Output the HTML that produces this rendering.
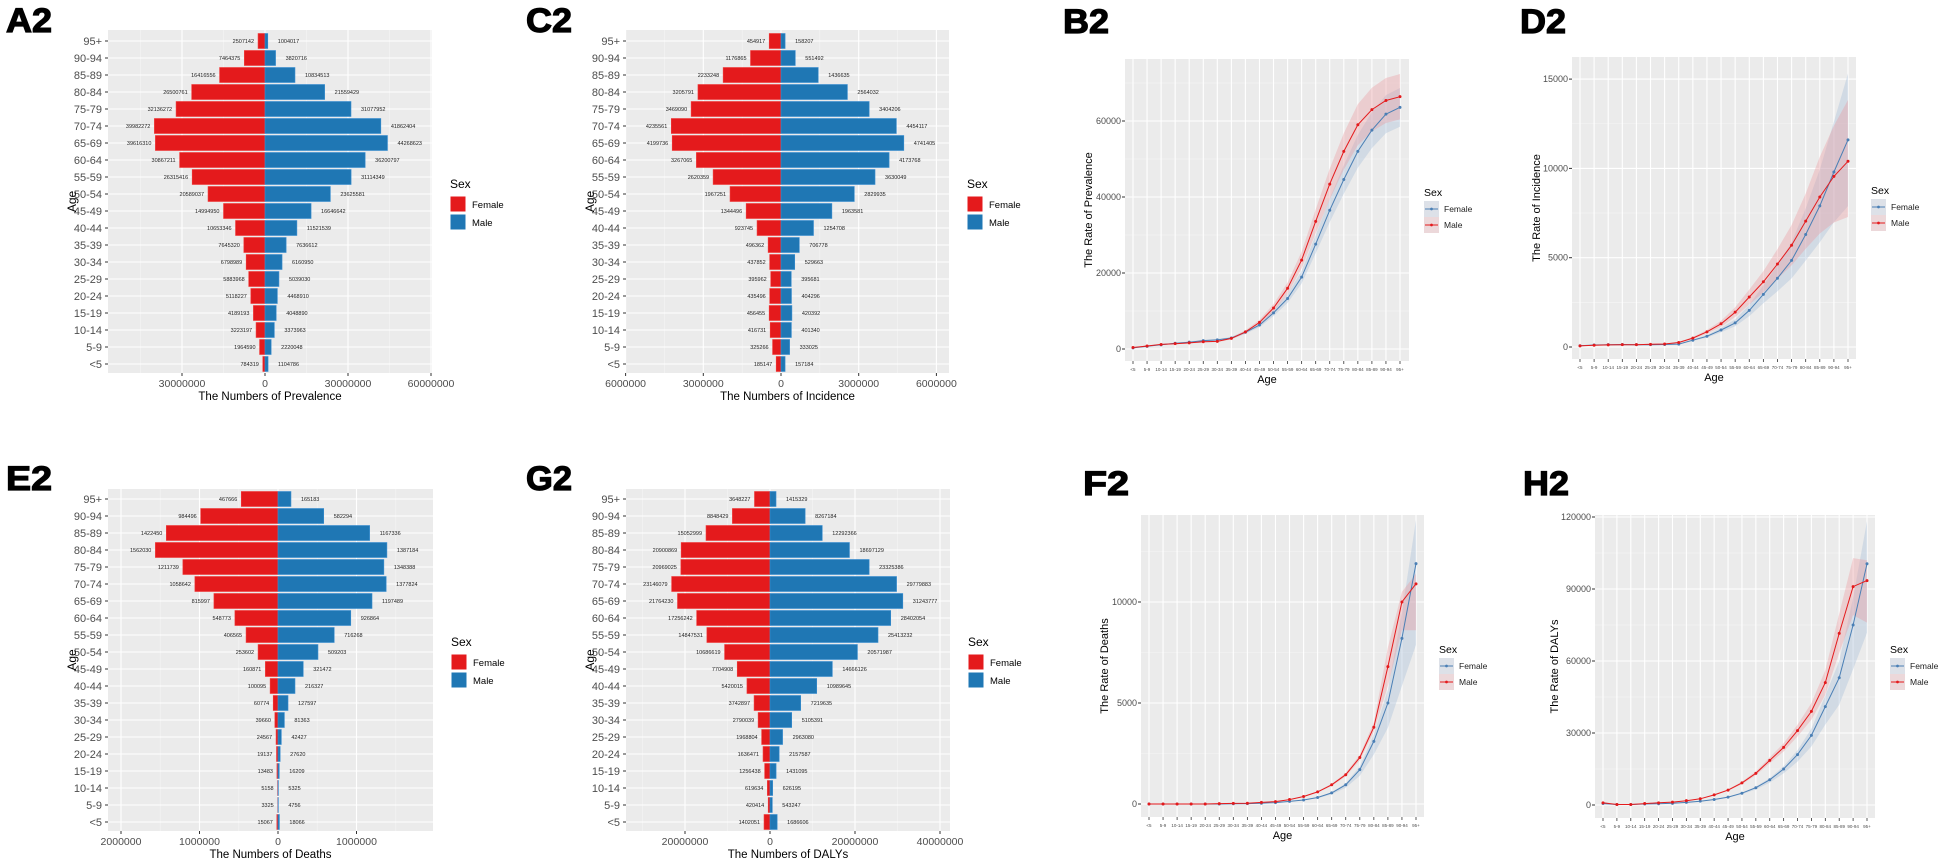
<!DOCTYPE html>
<html><head><meta charset="utf-8">
<style>
html,body{margin:0;padding:0;background:#fff;}
svg{display:block;font-family:"Liberation Sans",Arial,sans-serif;}
.t{font-family:"Liberation Sans",sans-serif;font-weight:bold;font-size:34px;fill:#000;stroke:#000;stroke-width:1.2;}
</style></head>
<body>
<svg id="s" width="1943" height="865" xmlns="http://www.w3.org/2000/svg"></svg>
<script>
var S=document.getElementById('s');var out=[];
function r(x,y,w,h,f,ex){out.push('<rect x="'+x+'" y="'+y+'" width="'+w+'" height="'+h+'" fill="'+f+'" '+(ex||'')+'/>');}
function l(x1,y1,x2,y2,c,w){out.push('<line x1="'+x1+'" y1="'+y1+'" x2="'+x2+'" y2="'+y2+'" stroke="'+c+'" stroke-width="'+w+'"/>');}
function t(x,y,s,sz,anc,fill,ex){out.push('<text x="'+x+'" y="'+y+'" font-size="'+sz+'" text-anchor="'+(anc||'start')+'" fill="'+(fill||'#000')+'" '+(ex||'')+'>'+s+'</text>');}
var ages=['95+','90-94','85-89','80-84','75-79','70-74','65-69','60-64','55-59','50-54','45-49','40-44','35-39','30-34','25-29','20-24','15-19','10-14','5-9','&lt;5'];
var RED='#e41a1c',BLUE='#1f77b4';
function title(x,y,s){out.push('<text class="t" x="'+x+'" y="'+y+'" textLength="'+(s.length*23)+'" lengthAdjust="spacingAndGlyphs">'+s+'</text>');}
function pyr(o){
 r(o.L,o.T,o.R-o.L,o.B-o.T,'#ebebeb');
 var sc=o.sc;
 var step=o.ticks[1]-o.ticks[0];
 for(var v=o.ticks[0]-step*3;v<=o.ticks[o.ticks.length-1]+step*3;v+=step){
  var xm=o.cx+(v+step/2)*sc; if(xm>o.L&&xm<o.R) l(xm,o.T,xm,o.B,'#f5f5f5',0.6);
 }
 o.ticks.forEach(function(v){var x=o.cx+v*sc; if(x>=o.L-1&&x<=o.R+1) l(x,o.T,x,o.B,'#fff',1.1);});
 for(var i=0;i<20;i++){var y=o.r0+i*17; l(o.L,y,o.R,y,'#fff',1.1);}
 for(var i=0;i<20;i++){
  var y=o.r0+i*17, f=o.d[i][0], m=o.d[i][1];
  var wf=f*sc, wm=m*sc;
  r(o.cx-wf,y-7.5,wf,15,RED,'stroke="#f03a3a" stroke-width="0.6"');
  r(o.cx,y-7.5,wm,15,BLUE,'stroke="#3a8ed0" stroke-width="0.6"');
  t(o.cx-wf-4,y+2,f,5.5,'end','#222');
  t(o.cx+wm+10,y+2,m,5.5,'start','#222');
  t(o.L-6,y+4,ages[i],11,'end','#4d4d4d');
  l(o.L-3,y,o.L,y,'#333',1);
 }
 o.ticks.forEach(function(v,k){var x=o.cx+v*sc; if(x>=o.L-2&&x<=o.R+2){l(x,o.B,x,o.B+3,'#333',1);t(x,o.B+14,o.tl[k],10.5,'middle','#4d4d4d');}});
 t((o.L+o.R)/2,o.B+27,o.xl,11.5,'middle','#000');
 out.push('<text x="0" y="0" font-size="12" text-anchor="middle" transform="translate('+(o.L-32)+','+((o.T+o.B)/2)+') rotate(-90)">Age</text>');
 var lx=o.R+18, ly=o.ly;
 t(lx,ly,'Sex',12,'start','#000');
 r(lx,ly+8,16,16,RED,'stroke="#fff" stroke-width="1"');
 r(lx,ly+26,16,16,BLUE,'stroke="#fff" stroke-width="1"');
 t(lx+22,ly+20,'Female',9.5);t(lx+22,ly+38,'Male',9.5);
}
var A=[[2507142,1004017],[7464375,3820716],[16416556,10834513],[26500761,21559429],[32136272,31077952],[39982272,41862404],[39616310,44268623],[30867211,36200797],[26315416,31114349],[20589037,23625581],[14994950,16646642],[10653346,11521539],[7645320,7636612],[6798989,6160950],[5883968,5039030],[5118227,4468910],[4189193,4048890],[3223197,3373963],[1964590,2220048],[784319,1104786]];
var C=[[454917,158207],[1176865,551492],[2233248,1436635],[3205791,2564032],[3469090,3404206],[4235561,4454117],[4199736,4741405],[3267065,4173768],[2620359,3630049],[1967251,2829935],[1344496,1963581],[923745,1254708],[496362,706778],[437852,529663],[395962,395681],[435496,404296],[456455,420392],[416731,401340],[325266,333025],[185147,157184]];
var E=[[467666,165183],[984496,582294],[1422450,1167336],[1562030,1387184],[1211739,1348388],[1058642,1377824],[815997,1197489],[548773,926864],[406565,716268],[253602,509203],[160871,321472],[100095,216327],[60774,127597],[39660,81363],[24567,42427],[19137,27620],[13483,16209],[5158,5325],[3325,4756],[15067,18066]];
var G=[[3648227,1415329],[8848429,8267184],[15052999,12292366],[20900869,18697129],[20969025,23325386],[23146079,29779883],[21764230,31243777],[17256242,28402054],[14847531,25413232],[10686619,20571987],[7704908,14666126],[5420015,10989645],[3742897,7219635],[2790039,5105391],[1968804,2963080],[1636471,2157587],[1256438,1431095],[619634,626195],[420414,543247],[1402051,1686606]];
title(6,32,'A2');title(526,32,'C2');title(1063,33,'B2');title(1520,33,'D2');
title(6,490,'E2');title(526,490,'G2');title(1083,495,'F2');title(1523,495,'H2');
pyr({L:108,R:432,T:30,B:373,cx:265,sc:83/30e6,r0:41,ticks:[-30e6,0,30e6,60e6],tl:['30000000','0','30000000','60000000'],xl:'The Numbers of Prevalence',d:A,ly:188});
pyr({L:626,R:949,T:30,B:373,cx:781,sc:77.7/3e6,r0:41,ticks:[-6e6,-3e6,0,3e6,6e6],tl:['6000000','3000000','0','3000000','6000000'],xl:'The Numbers of Incidence',d:C,ly:188});
pyr({L:108,R:433,T:489,B:831,cx:278,sc:78.5/1e6,r0:499,ticks:[-2e6,-1e6,0,1e6],tl:['2000000','1000000','0','1000000'],xl:'The Numbers of Deaths',d:E,ly:646});
pyr({L:626,R:950,T:489,B:831,cx:770,sc:85/20e6,r0:499,ticks:[-20e6,0,20e6,40e6],tl:['20000000','0','20000000','40000000'],xl:'The Numbers of DALYs',d:G,ly:646});

var xa=['&lt;5','5-9','10-14','15-19','20-24','25-29','30-34','35-39','40-44','45-49','50-54','55-59','60-64','65-69','70-74','75-79','80-84','85-89','90-94','95+'];
function path(pts){return pts.map(function(p,i){return (i?'L':'M')+p[0].toFixed(1)+','+p[1].toFixed(1);}).join('');}
function lc(o){
 r(o.L,o.T,o.R-o.L,o.B-o.T,'#ebebeb');
 var st=o.yt[1]-o.yt[0];
 for(var v=-st/2;v<o.yt[o.yt.length-1]+st*2;v+=st){var y=o.y0-v*o.sc;if(y>o.T&&y<o.B)l(o.L,y,o.R,y,'#f5f5f5',0.6);}
 o.yt.forEach(function(v){var y=o.y0-v*o.sc;l(o.L,y,o.R,y,'#fff',1.1);l(o.L-3,y,o.L,y,'#333',1);t(o.L-4,y+3,v,9,'end','#4d4d4d');});
 var dx=(o.x1-o.x0)/19;
 for(var i=0;i<20;i++){var x=o.x0+i*dx;l(x,o.T,x,o.B,'#fff',1.1);l(x,o.B,x,o.B+3,'#333',0.8);t(x,o.B+10,xa[i],4.5,'middle','#4d4d4d');}
 var ser=[[o.f,o.fb,'#4a7fb5','rgba(160,185,215,0.35)'],[o.m,o.mb,'#e41a1c','rgba(235,150,155,0.35)']];
 ser.forEach(function(s){
  var up=[],lo=[];
  for(var i=0;i<20;i++){var x=o.x0+i*dx,v=s[0][i],b=s[1](v,i);
   up.push([x,o.y0-(v+b[1])*o.sc]);lo.push([x,o.y0-(v-b[0])*o.sc]);}
  out.push('<path d="'+path(up)+path(lo.reverse()).replace('M','L')+'Z" fill="'+s[3]+'"/>');
 });
 ser.forEach(function(s){
  var ln=[];for(var i=0;i<20;i++){ln.push([o.x0+i*dx,o.y0-s[0][i]*o.sc]);}
  out.push('<path d="'+path(ln)+'" fill="none" stroke="'+s[2]+'" stroke-width="1"/>');
  ln.forEach(function(p){out.push('<circle cx="'+p[0]+'" cy="'+p[1]+'" r="1.5" fill="'+s[2]+'"/>');});
 });
 t((o.L+o.R)/2,o.B+22,'Age',11,'middle','#000');
 out.push('<text x="0" y="0" font-size="11" text-anchor="middle" transform="translate('+o.yx+','+((o.T+o.B)/2)+') rotate(-90)">'+o.yl+'</text>');
 var lx=o.R+15, ly=o.ly;
 t(lx,ly,'Sex',10.5);
 r(lx,ly+5,15,16,'#dde1e8');r(lx,ly+21,15,16,'#ecd8da');
 l(lx+1,ly+13,lx+14,ly+13,'#4a7fb5',1);out.push('<circle cx="'+(lx+7.5)+'" cy="'+(ly+13)+'" r="1.4" fill="#4a7fb5"/>');
 l(lx+1,ly+29,lx+14,ly+29,'#e41a1c',1);out.push('<circle cx="'+(lx+7.5)+'" cy="'+(ly+29)+'" r="1.4" fill="#e41a1c"/>');
 t(lx+20,ly+16,'Female',8.5,'start','#222');t(lx+20,ly+32,'Male',8.5,'start','#222');
}
function pct(a,b){return function(v,i){var k=a+(b-a)*i/19;return [v*k,v*k];};}
lc({L:1125,R:1409,T:59,B:361,x0:1133,x1:1400,y0:349,sc:76/20000,yt:[0,20000,40000,60000],yl:'The Rate of Prevalence',yx:1092,ly:196,
 m:[400,800,1200,1400,1600,1900,2000,2800,4500,7000,10800,16000,23400,33600,43400,52000,59000,63000,65400,66400],
 f:[300,700,1100,1500,1800,2200,2400,2900,4400,6300,9500,13300,18900,27600,36500,44600,52000,57600,61800,63600],
 mb:pct(0.1,0.09),fb:pct(0.1,0.08)});
lc({L:1572,R:1856,T:57,B:359,x0:1580,x1:1848,y0:347,sc:89.3/5000,yt:[0,5000,10000,15000],yl:'The Rate of Incidence',yx:1540,ly:194,
 m:[60,100,120,130,130,150,170,250,500,850,1300,1950,2800,3650,4650,5700,7050,8400,9550,10400],
 f:[70,110,130,140,130,130,140,160,380,600,950,1350,2050,2950,3850,4850,6300,7900,9800,11600],
 mb:function(v,i){var k=0.1+0.2*Math.pow(i/19,3);return [v*k,v*k*(i>16?1.1:1)];},fb:function(v,i){var k=0.1+0.22*Math.pow(i/19,3);return [v*k,v*k];}});
lc({L:1141,R:1424,T:515,B:817,x0:1149,x1:1416,y0:804,sc:101/5000,yt:[0,5000,10000],yl:'The Rate of Deaths',yx:1108,ly:653,
 m:[0,0,0,0,0,20,30,40,80,120,220,370,600,950,1450,2300,3800,6800,10000,10900],
 f:[0,0,0,0,0,0,10,20,40,70,130,200,320,550,950,1700,3100,5000,8200,11900],
 mb:function(v,i){var k=i>=17?0.14:0.06;return [i>=18?v-8600:v*k,i>=18?500:v*k];},fb:function(v,i){var k=0.06+0.2*Math.pow(i/19,4);return [v*k*1.3,v*k*0.7];}});
lc({L:1595,R:1875,T:515,B:818,x0:1603,x1:1867,y0:805,sc:72/30000,yt:[0,30000,60000,90000,120000],yl:'The Rate of DALYs',yx:1558,ly:653,
 m:[900,200,200,600,900,1200,1800,2600,4200,6200,9200,13200,18600,24000,31000,39000,51000,71500,91000,93500],
 f:[600,200,200,400,500,700,1100,1600,2300,3300,4900,7200,10500,15000,21000,29000,41000,53000,75000,100500],
 mb:function(v,i){var k=0.05+0.1*Math.pow(i/19,4);return [i==19?17500:v*k,i==19?8500:v*k];},fb:function(v,i){var k=0.06+0.16*Math.pow(i/19,4);return [v*k*1.3,v*k*0.8];}});
S.innerHTML=out.join('');
</script>
</body></html>
